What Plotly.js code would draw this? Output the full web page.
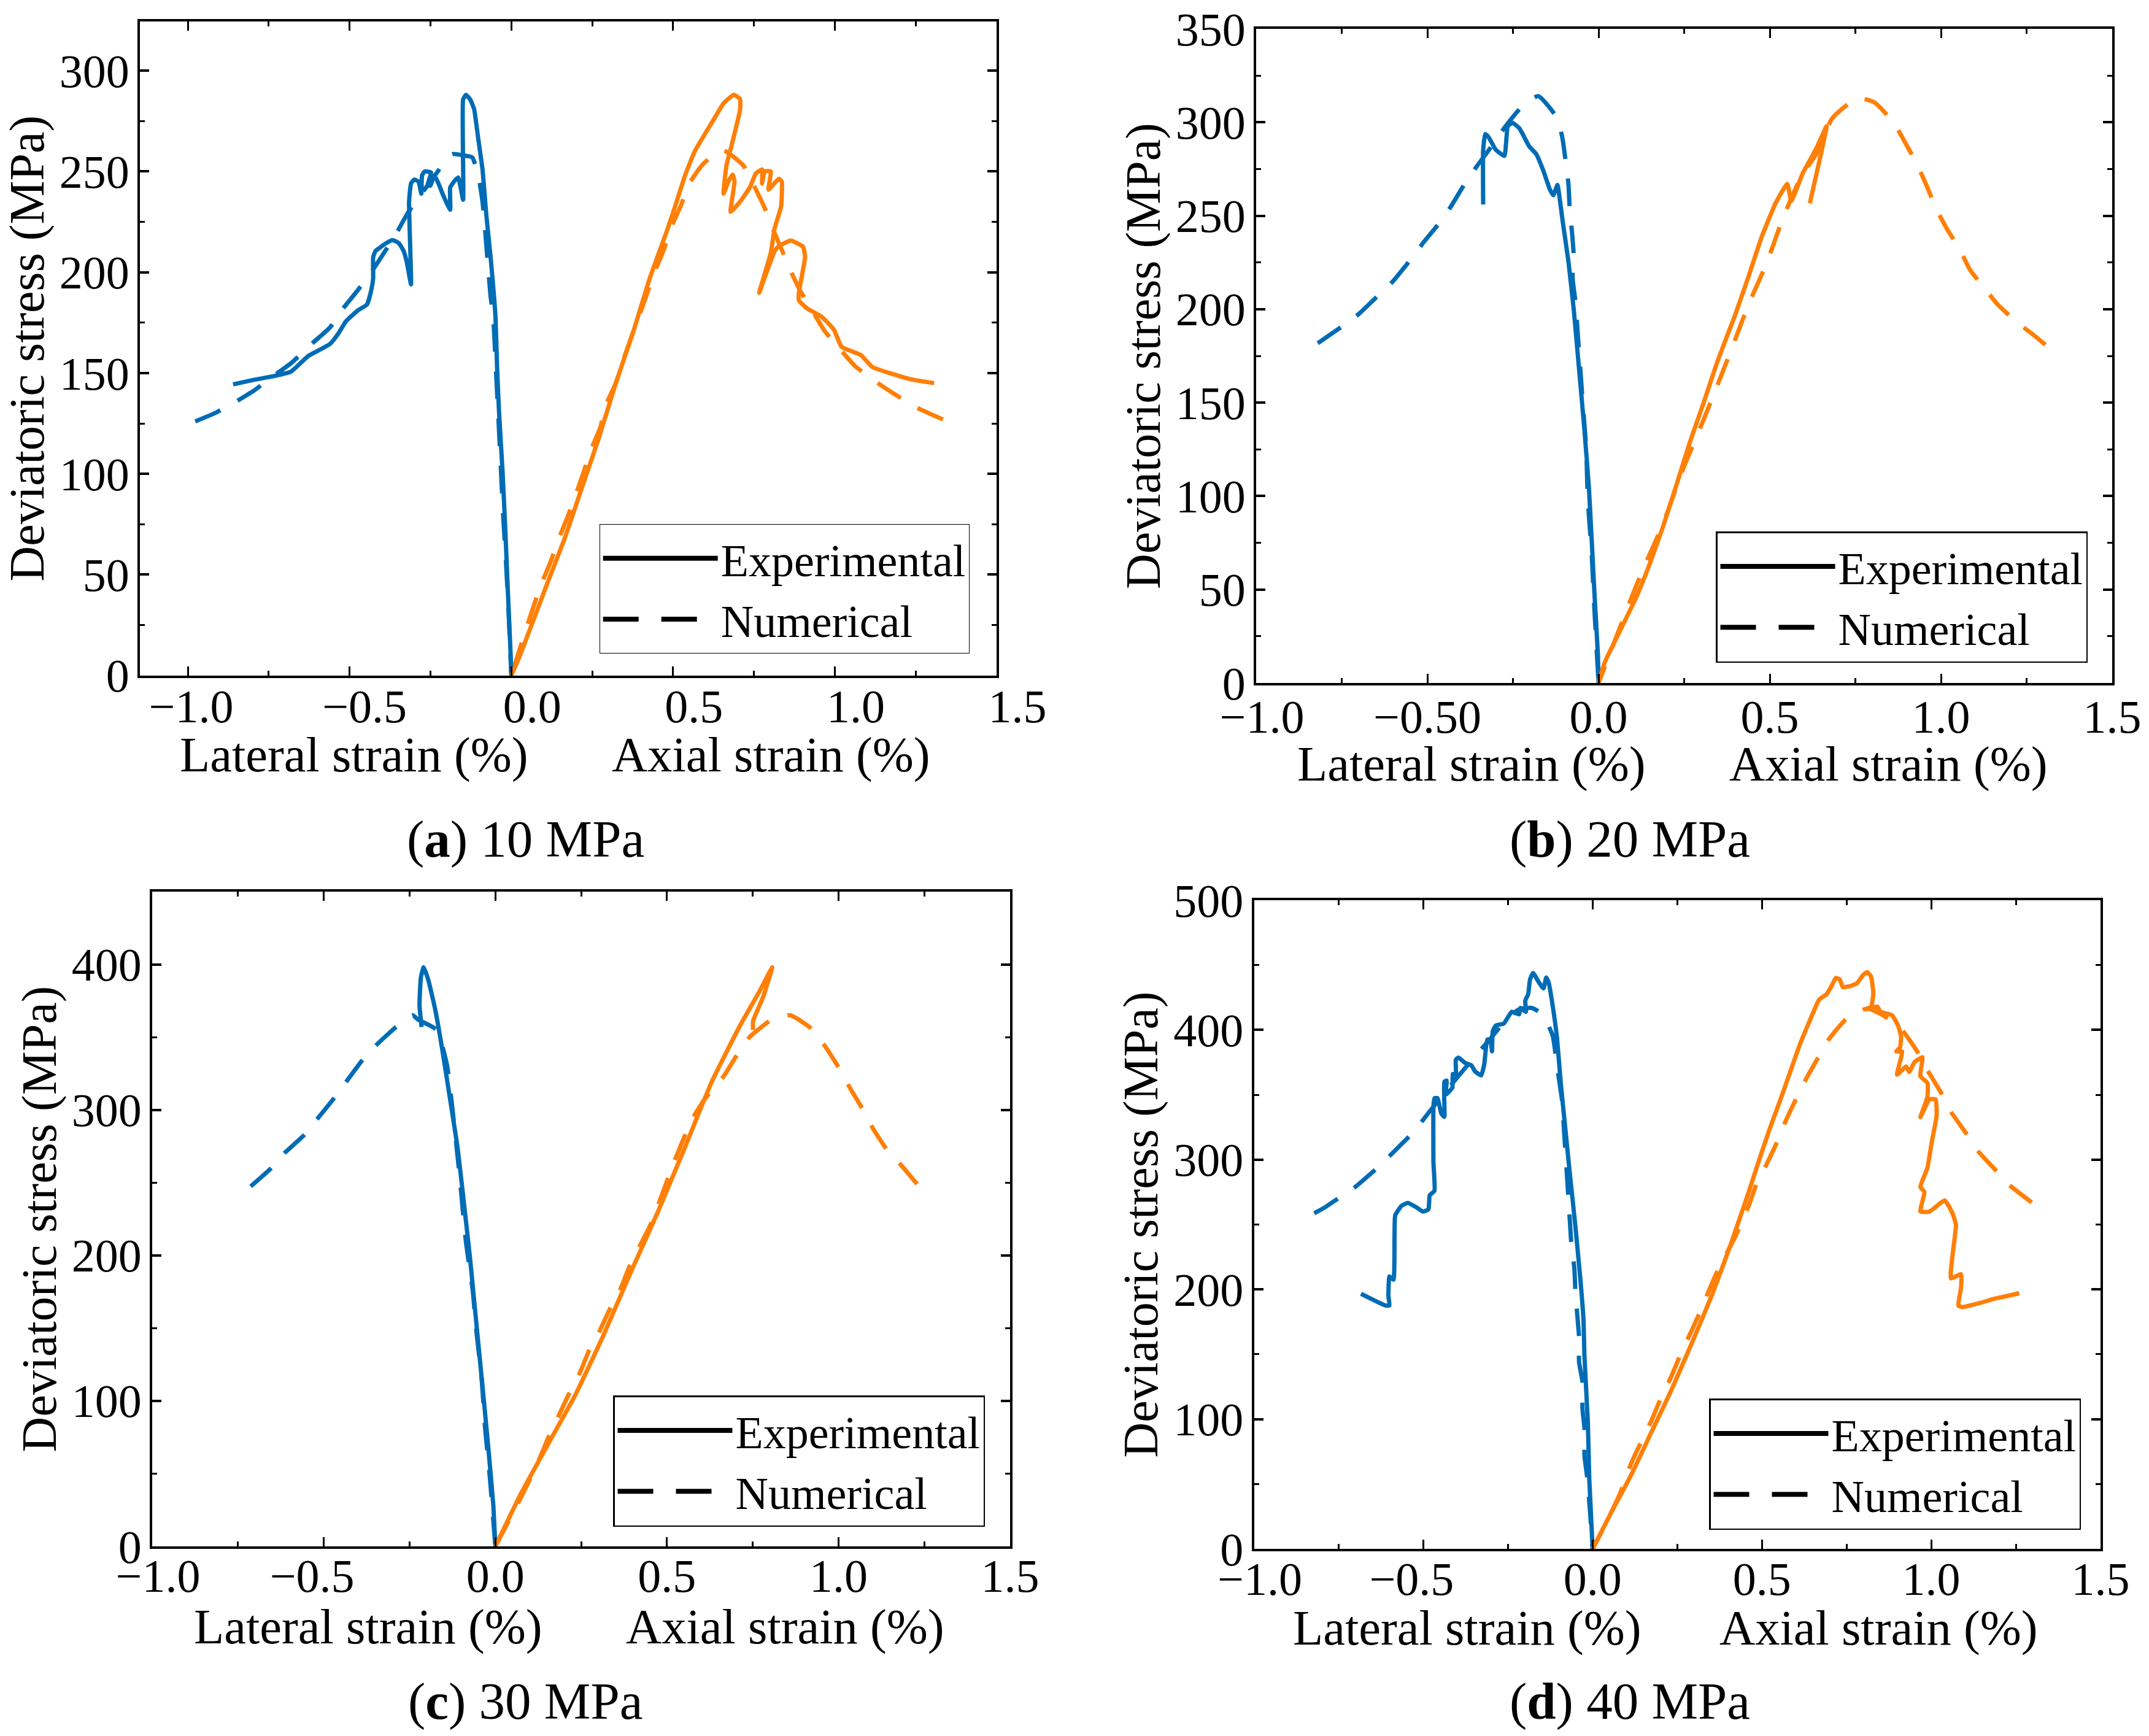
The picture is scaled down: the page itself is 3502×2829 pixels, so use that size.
<!DOCTYPE html>
<html><head><meta charset="utf-8">
<script src="https://cdn.plot.ly/plotly-3.0.1.min.js"></script>
<style>html,body{margin:0;padding:0;background:#fff}</style></head>
<body><div id="chart" style="width:3502px;height:2829px"></div>
<script>
// ---- Panel (a) 10 MPa ----
const aLatExpX=[0,-0.002,-0.011,-0.019,-0.027,-0.038,-0.044,-0.049,-0.064,-0.077,-0.089,-0.102,-0.115,-0.127,-0.14,-0.149,-0.149,-0.164,-0.177,-0.189,-0.189,-0.21,-0.225,-0.238,-0.25,-0.259,-0.248,-0.268,-0.276,-0.278,-0.287,-0.3,-0.31,-0.316,-0.31,-0.323,-0.334,-0.348,-0.367,-0.386,-0.408,-0.42,-0.427,-0.427,-0.433,-0.446,-0.475,-0.512,-0.533,-0.56,-0.628,-0.681,-0.734,-0.797,-0.86];
const aLatExpY=[0,10,43,74,101,131,153,178,207.5,228,251,266,281,285.7,288,285.7,236,247,245,242,231,238,244,248,243,243,249.5,250,248,239,245,246,244,235,194,205,211,214.5,216,214.5,212,210.5,207.5,197,191,184,181,175.5,170,164.5,158.4,150.7,148.5,146.6,144.4];
const aLatNumX=[0,-0.008,-0.016,-0.025,-0.036,-0.047,-0.056,-0.064,-0.073,-0.083,-0.089,-0.102,-0.121,-0.15,-0.183,-0.25,-0.319,-0.354,-0.39,-0.433,-0.475,-0.522,-0.56,-0.617,-0.68,-0.74,-0.793,-0.86,-0.918,-0.977];
const aLatNumY=[0,30,55,79,115,150,178,188,205,225,235,248,257,258,258.6,245,229.7,219.7,210.5,200,191,181.6,172.7,164.5,155,148,141.6,135,130,126];
const aAxExpX=[0,0.027,0.112,0.165,0.218,0.271,0.323,0.376,0.429,0.482,0.505,0.537,0.567,0.6,0.632,0.657,0.688,0.707,0.707,0.681,0.665,0.656,0.671,0.684,0.69,0.678,0.707,0.737,0.756,0.775,0.775,0.783,0.802,0.795,0.827,0.836,0.834,0.814,0.802,0.766,0.814,0.827,0.864,0.902,0.908,0.889,0.889,0.915,0.959,0.997,1.021,1.08,1.116,1.169,1.233,1.307];
const aAxExpY=[0,10,46,68,93,118,145,170,197.5,221,232,248,260,269,277.5,284,288,286,280.5,263,253,239,245,248.5,245,230,235,242,249,251,244,250,250,241,246.4,245,232.7,221.8,209.6,189.8,210.5,213,215.7,212.6,207.5,190,186,182,178,171.6,163,159,153,150,147,145];
const aAxNumX=[0,0.03,0.06,0.091,0.123,0.144,0.175,0.197,0.224,0.243,0.275,0.292,0.323,0.345,0.376,0.41,0.44,0.471,0.493,0.524,0.548,0.593,0.653,0.717,0.747,0.783,0.811,0.84,0.864,0.896,0.934,0.968,1.017,1.063,1.127,1.2,1.254,1.334];
const aAxNumY=[0,15,30,44.6,57,66.7,79,88.7,101,110.7,123,134,145,156,170,185,199,211,222,233,243.4,253.7,260.7,253,244,232,220.6,209.6,200.5,190,180,171,161.7,153.4,145.7,138,132.8,127];
// ---- Panel (b) 20 MPa ----
const bLatExpX=[0,-0.002,-0.012,-0.028,-0.042,-0.056,-0.072,-0.088,-0.104,-0.116,-0.12,-0.132,-0.142,-0.162,-0.182,-0.202,-0.231,-0.251,-0.265,-0.275,-0.301,-0.321,-0.331,-0.337,-0.337];
const bLatExpY=[0,15.4,48,104,137,166,199,225.6,246,262.6,266.5,261,264,274.5,283,287,296.7,299.7,298,282,285.5,292,293.7,285,256];
const bLatNumX=[0,-0.012,-0.02,-0.028,-0.032,-0.036,-0.042,-0.048,-0.056,-0.062,-0.066,-0.076,-0.072,-0.078,-0.084,-0.088,-0.096,-0.106,-0.122,-0.176,-0.221,-0.271,-0.321,-0.355,-0.391,-0.431,-0.461,-0.51,-0.547,-0.6,-0.64,-0.7,-0.75,-0.82];
const bLatNumY=[0,39,69,89,101,125,140,154.6,175,190,202,217,227,242,253,267,279,292,302.6,314,309,298,285,276.6,267,255,247,236,227,215,208,197.5,190.7,181.8];
const bAxExpX=[0,0.018,0.068,0.108,0.148,0.188,0.227,0.267,0.307,0.347,0.397,0.437,0.477,0.517,0.551,0.563,0.597,0.636,0.666,0.617];
const bAxExpY=[0,11,30,45,63,83.5,105.7,129,150,172,196,217,239,256.7,267,258,273,286,298,256.7];
const bAxNumX=[0,0.098,0.128,0.188,0.247,0.307,0.337,0.387,0.437,0.493,0.537,0.593,0.636,0.682,0.756,0.806,0.862,0.896,0.93,0.956,0.986,1.016,1.056,1.085,1.129,1.165,1.225,1.265,1.305];
const bAxNumY=[0,46.5,60,85,114.6,141,154.6,178,202,225.6,248,271.5,283,302,313,310.6,299.7,289,277.5,267,253.8,243.4,231.6,221,210.8,202.6,192.5,187,181];
// ---- Panel (c) 30 MPa ----
const cLatExpX=[0,-0.006,-0.02,-0.032,-0.046,-0.06,-0.074,-0.09,-0.11,-0.135,-0.155,-0.175,-0.195,-0.209,-0.217,-0.221,-0.215];
const cLatExpY=[0,28.7,66.5,96.7,130.7,164.7,198.7,232.7,274,312,342,368.7,389,398,391,372,357];
const cLatNumX=[0,-0.016,-0.03,-0.04,-0.056,-0.066,-0.086,-0.106,-0.125,-0.141,-0.171,-0.225,-0.241,-0.289,-0.345,-0.388,-0.434,-0.47,-0.518,-0.558,-0.614,-0.653,-0.713];
const cLatNumY=[0,47.6,81.6,115.6,149.6,176,210,259,300.7,331,355,362,365,357,345,334,319.5,308,294,282.5,270.4,260,247.4];
const cAxExpX=[0,0.074,0.153,0.233,0.313,0.392,0.472,0.552,0.631,0.711,0.771,0.807,0.781,0.751,0.751];
const cAxExpY=[0,36,70,104,144,187,229,274,319.5,357,382,398,378,361,355];
const cAxNumX=[0,0.064,0.104,0.133,0.153,0.183,0.213,0.243,0.273,0.303,0.333,0.363,0.392,0.452,0.522,0.572,0.612,0.665,0.701,0.741,0.805,0.86,0.92,0.96,1.006,1.036,1.07,1.1,1.143,1.179,1.229];
const cAxNumY=[0,28.7,47.6,62.7,74,89,104,117.5,134.5,147.7,162.8,176,193,221,264.8,293,308,323,336.5,350,362,365,356,344,327,314,300.7,287.4,272,263,249];
// ---- Panel (d) 40 MPa ----
const dLatExpX=[0,-0.01,-0.014,-0.024,-0.027,-0.036,-0.051,-0.067,-0.081,-0.094,-0.105,-0.118,-0.13,-0.137,-0.145,-0.159,-0.176,-0.185,-0.19,-0.199,-0.197,-0.213,-0.217,-0.239,-0.262,-0.286,-0.295,-0.297,-0.302,-0.311,-0.32,-0.329,-0.347,-0.358,-0.376,-0.396,-0.404,-0.404,-0.413,-0.414,-0.434,-0.431,-0.438,-0.438,-0.447,-0.458,-0.467,-0.47,-0.47,-0.467,-0.481,-0.485,-0.501,-0.521,-0.546,-0.565,-0.583,-0.585,-0.588,-0.6,-0.603,-0.6,-0.612,-0.684];
const dLatExpY=[0,55,97.5,148,177,207.5,249,288.7,325,359,393.5,418.8,436.8,440.4,432,436.8,444,438.6,427.8,422.4,414,417,412,414,405,403.4,399,383.5,392.6,392.6,373.6,365,368,372.7,374.5,378.7,376.9,365.5,366,355.6,350,361,360,333,335.7,347.4,347.4,341,297.8,276,272.5,261.6,260,263.4,266.7,264.3,257,240,207.5,210,194.8,187.6,187.6,196.6];
const dLatNumX=[0,-0.008,-0.016,-0.024,-0.024,-0.03,-0.03,-0.04,-0.04,-0.045,-0.051,-0.054,-0.063,-0.067,-0.072,-0.076,-0.081,-0.085,-0.09,-0.105,-0.118,-0.148,-0.18,-0.216,-0.252,-0.304,-0.356,-0.42,-0.483,-0.53,-0.574,-0.63,-0.678,-0.715,-0.741,-0.792,-0.822];
const dLatNumY=[0,30,55,72,93,108,129,144,163,179.5,200,216.5,236,252,272.5,289,308.6,325,345,372,395.6,412,417,416,409,392.6,377,357,336.6,321,309.5,295,284,276,272,263,258.7];
const dAxExpX=[0,0.051,0.112,0.172,0.232,0.292,0.353,0.407,0.461,0.492,0.522,0.552,0.582,0.612,0.642,0.669,0.691,0.706,0.718,0.73,0.739,0.763,0.781,0.799,0.811,0.822,0.829,0.823,0.808,0.841,0.85,0.884,0.902,0.911,0.908,0.897,0.914,0.899,0.926,0.935,0.95,0.974,0.968,0.989,0.989,0.968,0.995,1.013,1.016,1.001,0.989,0.968,0.98,0.968,0.995,1.04,1.064,1.073,1.064,1.058,1.088,1.088,1.08,1.094,1.143,1.185,1.215,1.26];
const dAxExpY=[0,26,56,89,122,158,196,234,275,300,323,344.4,366.5,388.7,407.6,423.4,427.6,434,440,439,433,434,436,442.4,444.5,441.3,428.7,418,416,418,414,411.4,403.4,395,386.6,383.4,383.4,365.5,371.8,367.6,375,379,364.4,359,348.6,332.8,346.5,346.5,334,312.8,293.8,279,275,260,260,268.6,258,249.6,228.5,208.5,211.7,201,187.5,186.4,189.5,192.7,194.4,197];
const dAxNumX=[0,0.04,0.08,0.114,0.148,0.174,0.203,0.23,0.261,0.286,0.318,0.34,0.372,0.42,0.461,0.485,0.513,0.549,0.57,0.603,0.63,0.669,0.698,0.75,0.811,0.86,0.917,0.962,0.991,1.031,1.058,1.104,1.137,1.191,1.23,1.297];
const dAxNumY=[0,20,42,66,85,99,117,131.5,150.7,164.6,183,197,216,240,264.4,282,296,316,329.7,348,362,380,393,408.7,416.5,411,399,382,368,350.7,337,320,307,291.7,280.6,267];

// ---- Tick labels and texts ----
const xTickVals=[-1,-0.5,0,0.5,1,1.5];
const nb='\u00a0';
const aXTicks=['−1.0'+nb+nb+nb,'−0.5'+nb,'0.0','0.5','1.0','1.5'];
const bXTicks=[nb+'−1.0','−0.50','0.0','0.5','1.0','1.5'];
const cdXTicks=[nb+'−1.0','−0.5'+nb+nb,'0.0','0.5','1.0','1.5'];
const aYTicks=[0,50,100,150,200,250,300];
const bYTicks=[0,50,100,150,200,250,300,350];
const cYTicks=[0,100,200,300,400];
const dYTicks=[0,100,200,300,400,500];
const captions=['a','b','c','d'];
const pressures=['10 MPa','20 MPa','30 MPa','40 MPa'];
const legendNames=['Experimental','Numerical'];
const lateralTitle='Lateral strain (%)', axialTitle='Axial strain (%)', yTitle='Deviatoric stress (MPa)';

// ---- Styles and layout (pixels on the 3502 x 2829 page) ----
const W=3502,H=2829,FONT='"Liberation Serif"';
const BLUE='#006CB5',ORANGE='#FF7F07',DASH='45px,32px';
const panels=[
 {L:228,R:1624,T:34.7,B:1100.7,xr:[-1.148,1.5],yr:[0,324.5],xt:aXTicks,yt:aYTicks,ym:25,shift:34,so:22,xso:-19,
  lat:[aLatExpX,aLatExpY,aLatNumX,aLatNumY],ax:[aAxExpX,aAxExpY,aAxNumX,aAxNumY],
  labs:[577,1256,1230],cap:[856,1367],leg:[976.5,854,1.2]},
 {L:2047,R:3442,T:47,B:1113,xr:[-1,1.5],yr:[0,350],xt:bXTicks,yt:bYTicks,ym:25,shift:0,so:0,xso:-14,
  lat:[bLatExpX,bLatExpY,bLatNumX,bLatNumY],ax:[bAxExpX,bAxExpY,bAxNumX,bAxNumY],
  labs:[2398,3077,1245],cap:[2656,1367],leg:[2796,866,2.5]},
 {L:248,R:1646,T:1453,B:2520,xr:[-1,1.5],yr:[0,450],xt:cdXTicks,yt:cYTicks,ym:50,shift:0,so:0,xso:-21,
  lat:[cLatExpX,cLatExpY,cLatNumX,cLatNumY],ax:[cAxExpX,cAxExpY,cAxNumX,cAxNumY],
  labs:[600,1279,2651],cap:[856,2772],leg:[999,2274,2.5]},
 {L:2043.5,R:3423,T:1467,B:2524,xr:[-1,1.5],yr:[0,500],xt:cdXTicks,yt:dYTicks,ym:50,shift:0,so:0,xso:-20,
  lat:[dLatExpX,dLatExpY,dLatNumX,dLatNumY],ax:[dAxExpX,dAxExpY,dAxNumX,dAxNumY],
  labs:[2391,3061,2653],cap:[2656,2772],leg:[2785,2279,2.5]}
];

const traces=[],annotations=[],layout={width:W,height:H,margin:{l:0,r:0,t:0,b:0},paper_bgcolor:'#fff',plot_bgcolor:'#fff',
  font:{family:FONT,size:80,color:'#000'},showlegend:true,annotations};
const axisBase={showline:true,linecolor:'#000',linewidth:4,mirror:'allticks',showgrid:false,zeroline:false,ticks:'inside',tickcolor:'#000',fixedrange:true,
  tickfont:{family:FONT,size:76,color:'#000'}};
panels.forEach((p,i)=>{
  const s=i?String(i+1):'';
  const xa='x'+s,ya='y'+s,lg='legend'+s;
  const line=(x,y,c,dash)=>traces.push({type:'scatter',mode:'lines',x,y,xaxis:xa,yaxis:ya,showlegend:false,hoverinfo:'skip',
     line:dash?{color:c,width:7,dash:DASH,shape:'spline',smoothing:0.5}:{color:c,width:7,shape:'spline',smoothing:0.4}});
  // the dashed curves are traced from their far end, so a dash ends exactly on that end
  line(p.lat[2].slice().reverse(),p.lat[3].slice().reverse(),BLUE,true);
  line(p.ax[2].slice().reverse(),p.ax[3].slice().reverse(),ORANGE,true);
  line(p.lat[0],p.lat[1],BLUE,false); line(p.ax[0],p.ax[1],ORANGE,false);
  legendNames.forEach((n,j)=>traces.push({type:'scatter',mode:'lines',x:[null],y:[null],xaxis:xa,yaxis:ya,name:n,legend:lg,legendgroup:n+i,
     line:j?{color:'#000',width:8,dash:'58px,37px'}:{color:'#000',width:8}}));
  layout['xaxis'+s]=Object.assign({},axisBase,{anchor:ya,domain:[p.L/W,p.R/W],range:p.xr,tickmode:'array',tickvals:xTickVals,ticktext:p.xt,
     ticklen:15,tickwidth:3,ticklabelshift:p.shift,ticklabelstandoff:p.xso,tickangle:0,
     minor:{ticks:'inside',tickmode:'array',tickvals:[-0.75,-0.25,0.25,0.75,1.25],ticklen:8,tickwidth:3,tickcolor:'#000'}});
  layout['yaxis'+s]=Object.assign({},axisBase,{anchor:xa,domain:[1-p.B/H,1-p.T/H],range:p.yr,tickmode:'array',tickvals:p.yt,ticktext:p.yt.map(String),
     ticklen:15,tickwidth:4,ticklabelstandoff:-2,
     minor:{ticks:'inside',dtick:p.ym,tick0:0,ticklen:8,tickwidth:3,tickcolor:'#000'},
     title:{text:yTitle,font:{family:FONT,size:80,color:'#000'},standoff:p.so}});
  layout[lg]={x:p.leg[0]/W,y:1-p.leg[1]/H,xanchor:'left',yanchor:'top',bgcolor:'#fff',bordercolor:'#000',borderwidth:p.leg[2],
     font:{family:FONT,size:74,color:'#000'},itemwidth:187,traceorder:'grouped',tracegroupgap:0,itemclick:false,itemdoubleclick:false};
  [[lateralTitle,p.labs[0]],[axialTitle,p.labs[1]]].forEach(([t,px])=>annotations.push({text:t,xref:'paper',yref:'paper',x:px/W,y:1-p.labs[2]/H,
     xanchor:'center',yanchor:'middle',showarrow:false,font:{family:FONT,size:80.5,color:'#000'}}));
  annotations.push({text:'(<b>'+captions[i]+'</b>) '+pressures[i],xref:'paper',yref:'paper',x:p.cap[0]/W,y:1-p.cap[1]/H,
     xanchor:'center',yanchor:'middle',showarrow:false,font:{family:FONT,size:85,color:'#000'}});
});
Plotly.newPlot('chart',traces,layout,{displayModeBar:false});
</script></body></html>
